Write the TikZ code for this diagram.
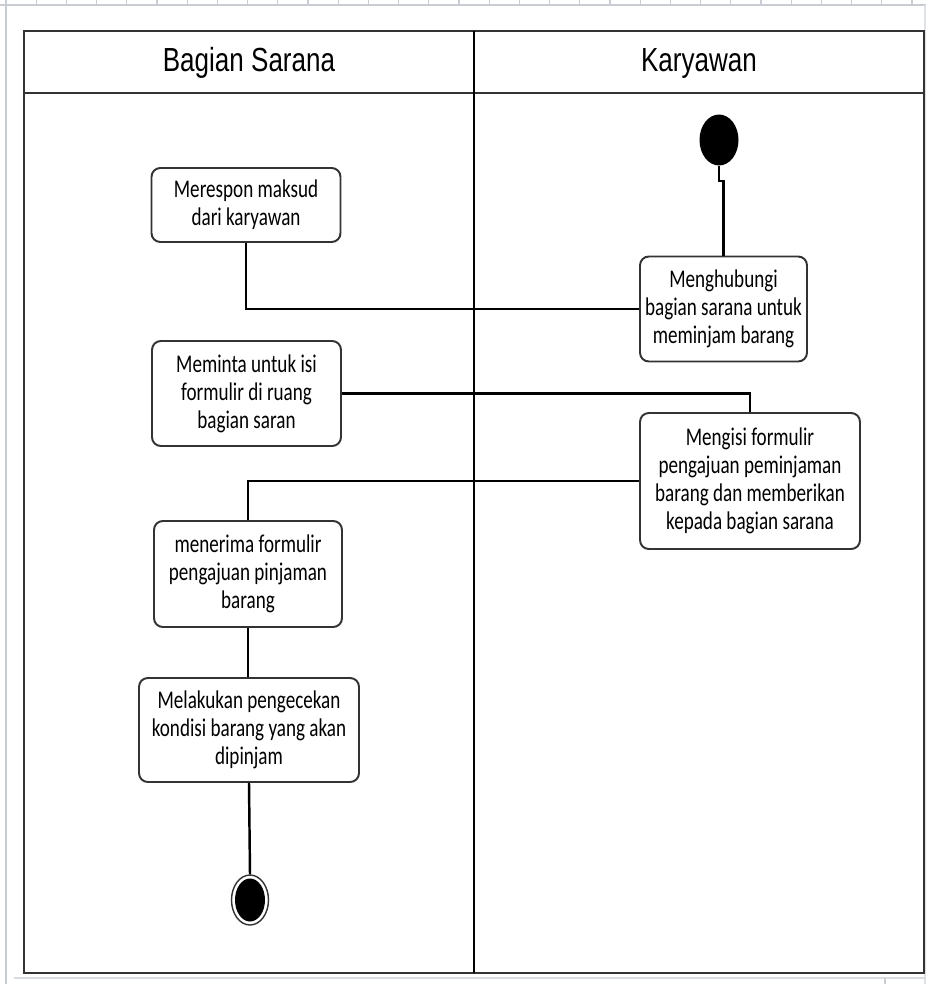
\documentclass[tikz,border=0pt]{standalone}
\usepackage{fontspec}
\setmainfont{Carlito}[FakeStretch=0.75]
\newfontfamily\lanefont{Liberation Sans}[FakeStretch=0.78]
\usepackage{xcolor}
\usepackage{tikz}
\usetikzlibrary{shapes.geometric}
\definecolor{framegray}{HTML}{333333}
\definecolor{pagegray}{HTML}{C8CDD4}

\begin{document}
\begin{tikzpicture}[x=0.02cm,y=-0.02cm,
act/.style={draw=framegray,line width=1.1pt,rounded corners=5pt,align=center,
  inner sep=1pt,font=\fontsize{14.5}{16}\selectfont},
flow/.style={line width=1.4pt,black},
lane/.style={font=\lanefont\fontsize{19}{22}\selectfont}]
\useasboundingbox (0,0) rectangle (926,984);
% Page edge
\draw[pagegray,line width=0.6pt] (0,5) -- (926,5);
\foreach \k in {0,...,30}
\draw[pagegray,line width=0.6pt] ({6+30.2*\k},0) -- ({6+30.2*\k},5);
\draw[pagegray,line width=0.8pt] (6,5) -- (6,984);
\draw[pagegray!60,line width=0.6pt] (925,5) -- (925,984);
\draw[pagegray!70,line width=0.6pt] (14,978) -- (926,978);
\draw[pagegray,line width=0.6pt] (885,978) -- (885,984);
% Swimlanes
\draw[framegray,line width=1.6pt] (24,31) rectangle (924,973);
\draw[framegray,line width=1.6pt] (24,93) -- (924,93);
\draw[black,line width=0.9pt] (474,31) -- (474,973);
\node[lane] (bagian) at (249,63) {Bagian Sarana};
\node[lane] (karyawan) at (699,63) {Karyawan};
% Start
\node[ellipse,fill=black,minimum width=0.78cm,minimum height=1.02cm,inner sep=0] (start) at (719,140) {};
% Activities
\node[act,minimum width=3.78cm,minimum height=1.48cm] (merespon) at (246,205) {Merespon maksud\\dari karyawan};
\node[act,minimum width=3.34cm,minimum height=2.1cm] (menghubungi) at (723.5,309) {Menghubungi\\bagian sarana untuk\\meminjam barang};
\node[act,minimum width=3.78cm,minimum height=2.1cm] (meminta) at (246.5,393.5) {Meminta untuk isi\\formulir di ruang\\bagian saran};
\node[act,minimum width=4.4cm,minimum height=2.72cm] (mengisi) at (750,481) {Mengisi formulir\\pengajuan peminjaman\\barang dan memberikan\\kepada bagian sarana};
\node[act,minimum width=3.76cm,minimum height=2.12cm] (menerima) at (248,574) {menerima formulir\\pengajuan pinjaman\\barang};
\node[act,minimum width=4.4cm,minimum height=2.08cm] (melakukan) at (249,730) {Melakukan pengecekan\\kondisi barang yang akan\\dipinjam};
% End
\node[ellipse,draw=framegray,line width=0.8pt,fill=white,minimum width=0.74cm,minimum height=1cm,inner sep=0] (end) at (250,900) {};
\node[ellipse,fill=black,minimum width=0.6cm,minimum height=0.86cm,inner sep=0] (endin) at (end) {};
% Flow
\draw[flow] (start.south) -- ++(0,15) -| (menghubungi.north);
\draw[flow] (menghubungi.west) -| (merespon.south);
\draw[flow] (meminta.east) -| (mengisi.north);
\draw[flow] (mengisi.west) -| (menerima.north);
\draw[flow] (menerima.south) -- (melakukan.north -| menerima.south);
\draw[flow] (melakukan.south) -- (end.north);
\end{tikzpicture}
\end{document}
